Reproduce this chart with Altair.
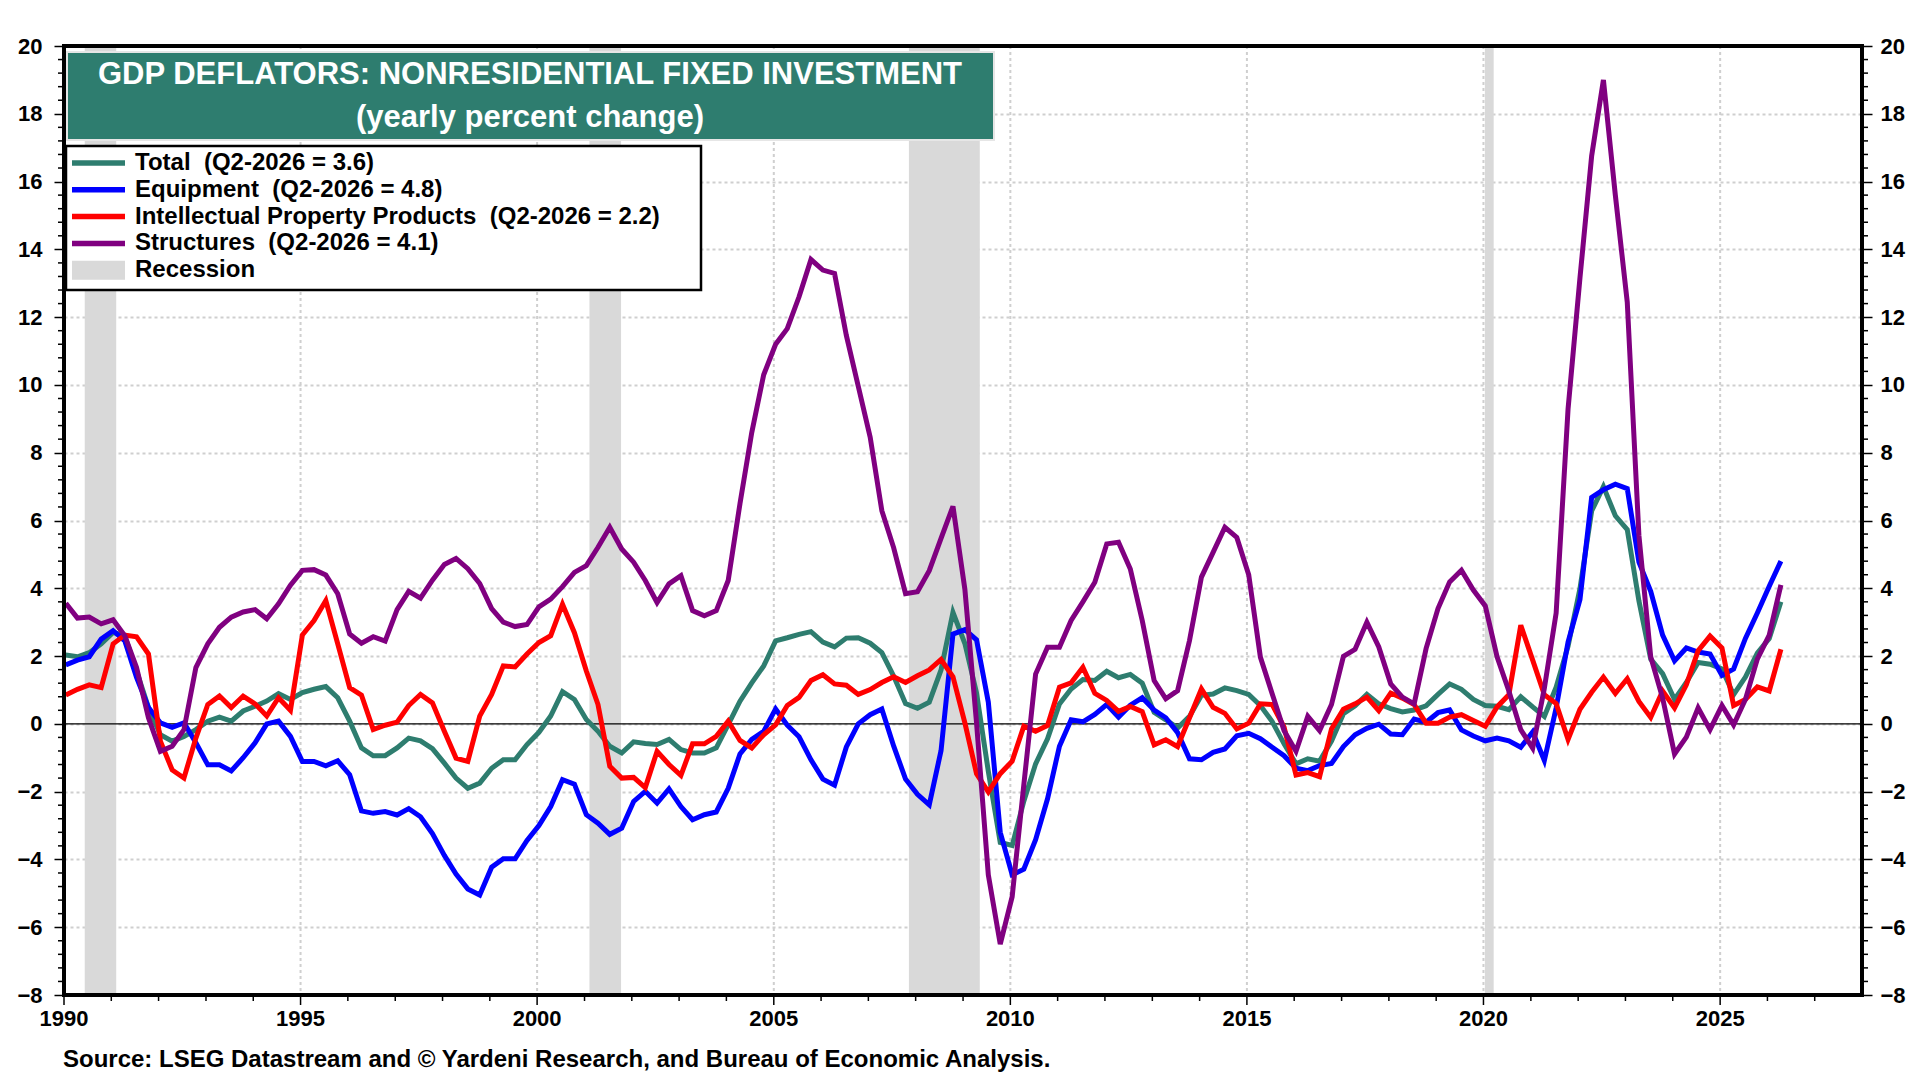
import altair as alt
import pandas as pd

# ---------------- data (quarterly, 1990Q1 .. 2026Q2) ----------------
total = [
    2.03, 1.98, 2.10, 2.36,
    2.70, 2.60, 1.56, 0.48,
    -0.32, -0.51, -0.37, -0.17,
    0.08, 0.20, 0.08, 0.38,
    0.52, 0.67, 0.89, 0.72,
    0.92, 1.02, 1.10, 0.77,
    0.08, -0.71, -0.94, -0.94,
    -0.71, -0.42, -0.50, -0.73,
    -1.16, -1.60, -1.90, -1.75,
    -1.31, -1.06, -1.06, -0.61,
    -0.25, 0.23, 0.95, 0.72,
    0.13, -0.22, -0.66, -0.86,
    -0.53, -0.58, -0.61, -0.46,
    -0.76, -0.86, -0.86, -0.71,
    -0.02, 0.67, 1.21, 1.71,
    2.45, 2.54, 2.64, 2.72,
    2.41, 2.27, 2.53, 2.54,
    2.38, 2.10, 1.41, 0.60,
    0.46, 0.64, 1.59, 3.29,
    2.37, 0.91, -1.40, -3.50,
    -3.59, -2.28, -1.18, -0.44,
    0.59, 1.03, 1.31, 1.28,
    1.55, 1.36, 1.46, 1.20,
    0.34, 0.12, -0.12, 0.22,
    0.84, 0.88, 1.06, 0.98,
    0.87, 0.54, 0.07, -0.59,
    -1.18, -1.03, -1.10, -0.51,
    0.30, 0.53, 0.87, 0.59,
    0.45, 0.35, 0.41, 0.53,
    0.87, 1.18, 1.02, 0.72,
    0.54, 0.52, 0.42, 0.80,
    0.50, 0.22, 1.08, 2.29,
    3.99, 6.28, 7.00, 6.14,
    5.73, 3.63, 1.91, 1.48,
    0.72, 1.22, 1.81, 1.76,
    1.62, 0.86, 1.38, 2.09,
    2.52, 3.60,
]

equipment = [
    1.74, 1.88, 1.98, 2.50,
    2.75, 2.45, 1.37, 0.48,
    0.03, -0.10, 0.03, -0.56,
    -1.21, -1.21, -1.39, -1.00,
    -0.56, 0.00, 0.08, -0.37,
    -1.11, -1.11, -1.24, -1.09,
    -1.50, -2.57, -2.64, -2.59,
    -2.69, -2.50, -2.74, -3.24,
    -3.88, -4.43, -4.87, -5.05,
    -4.23, -3.98, -3.98, -3.44,
    -3.00, -2.44, -1.65, -1.78,
    -2.68, -2.93, -3.26, -3.08,
    -2.29, -1.99, -2.34, -1.92,
    -2.44, -2.83, -2.68, -2.60,
    -1.90, -0.89, -0.46, -0.22,
    0.44, -0.04, -0.38, -1.06,
    -1.63, -1.81, -0.68, 0.00,
    0.27, 0.44, -0.65, -1.63,
    -2.08, -2.39, -0.79, 2.65,
    2.78, 2.48, 0.64, -3.20,
    -4.45, -4.29, -3.42, -2.21,
    -0.66, 0.12, 0.06, 0.28,
    0.57, 0.20, 0.55, 0.77,
    0.41, 0.18, -0.26, -1.03,
    -1.06, -0.84, -0.74, -0.35,
    -0.28, -0.44, -0.69, -0.94,
    -1.31, -1.38, -1.23, -1.17,
    -0.67, -0.32, -0.13, -0.01,
    -0.30, -0.32, 0.14, 0.05,
    0.33, 0.41, -0.18, -0.36,
    -0.50, -0.42, -0.50, -0.69,
    -0.24, -1.08, 0.47, 2.41,
    3.67, 6.68, 6.91, 7.07,
    6.94, 4.77, 3.91, 2.62,
    1.86, 2.24, 2.12, 2.06,
    1.43, 1.62, 2.52, 3.27,
    4.06, 4.80,
]

ipp = [
    0.85, 1.02, 1.15, 1.07,
    2.36, 2.62, 2.57, 2.06,
    -0.51, -1.36, -1.60, -0.42,
    0.57, 0.82, 0.48, 0.82,
    0.59, 0.23, 0.77, 0.40,
    2.62, 3.05, 3.64, 2.36,
    1.07, 0.85, -0.17, -0.04,
    0.05, 0.54, 0.87, 0.62,
    -0.22, -1.01, -1.11, 0.23,
    0.87, 1.71, 1.68, 2.06,
    2.40, 2.60, 3.53, 2.69,
    1.56, 0.57, -1.25, -1.60,
    -1.58, -1.88, -0.81, -1.20,
    -1.52, -0.59, -0.59, -0.37,
    0.08, -0.49, -0.71, -0.32,
    -0.03, 0.54, 0.78, 1.28,
    1.45, 1.18, 1.14, 0.87,
    1.01, 1.22, 1.39, 1.22,
    1.42, 1.59, 1.90, 1.39,
    0.03, -1.47, -2.01, -1.47,
    -1.10, -0.07, -0.22, -0.05,
    1.08, 1.21, 1.67, 0.90,
    0.69, 0.37, 0.51, 0.36,
    -0.62, -0.47, -0.67, 0.18,
    1.03, 0.49, 0.31, -0.15,
    0.02, 0.59, 0.57, -0.10,
    -1.51, -1.44, -1.56, -0.15,
    0.43, 0.59, 0.79, 0.39,
    0.91, 0.76, 0.57, 0.02,
    0.02, 0.20, 0.27, 0.10,
    -0.07, 0.50, 0.86, 2.91,
    1.88, 0.86, 0.60, -0.46,
    0.43, 0.93, 1.38, 0.90,
    1.33, 0.66, 0.19, 0.97,
    0.47, 1.15, 2.16, 2.59,
    2.24, 0.54, 0.72, 1.09,
    0.97, 2.20,
]

structures = [
    3.56, 3.12, 3.15, 2.95,
    3.07, 2.60, 1.66, 0.18,
    -0.81, -0.66, -0.17, 1.66,
    2.36, 2.85, 3.15, 3.30,
    3.37, 3.10, 3.54, 4.09,
    4.53, 4.55, 4.39, 3.84,
    2.65, 2.38, 2.57, 2.44,
    3.37, 3.91, 3.71, 4.24,
    4.70, 4.88, 4.58, 4.14,
    3.40, 3.00, 2.87, 2.93,
    3.45, 3.68, 4.05, 4.47,
    4.67, 5.21, 5.80, 5.16,
    4.77, 4.23, 3.58, 4.13,
    4.37, 3.34, 3.19, 3.34,
    4.23, 6.50, 8.60, 10.30,
    11.20, 11.66, 12.60, 13.70,
    13.39, 13.29, 11.46, 9.96,
    8.46, 6.29, 5.20, 3.84,
    3.90, 4.52, 5.47, 6.42,
    3.97, 0.03, -4.46, -6.50,
    -5.10, -1.80, 1.47, 2.26,
    2.26, 3.05, 3.60, 4.18,
    5.31, 5.36, 4.57, 3.05,
    1.28, 0.74, 0.98, 2.46,
    4.33, 5.06, 5.80, 5.50,
    4.40, 1.97, 0.89, -0.20,
    -0.81, 0.22, -0.20, 0.57,
    1.99, 2.20, 3.00, 2.27,
    1.18, 0.79, 0.59, 2.22,
    3.40, 4.19, 4.53, 3.95,
    3.48, 1.98, 0.97, -0.17,
    -0.72, 1.05, 3.27, 9.29,
    13.16, 16.75, 19.00, 15.60,
    12.44, 5.56, 1.98, 0.76,
    -0.89, -0.39, 0.47, -0.17,
    0.54, -0.03, 0.72, 1.91,
    2.62, 4.10,
]

series_names = ["Total", "Equipment", "Intellectual Property Products", "Structures"]
series_colors = ["#2e7d6f", "#0000ff", "#ff0000", "#800080"]
legend_labels = [
    "Total\u00a0 (Q2-2026 = 3.6)",
    "Equipment\u00a0 (Q2-2026 = 4.8)",
    "Intellectual Property Products\u00a0 (Q2-2026 = 2.2)",
    "Structures\u00a0 (Q2-2026 = 4.1)",
]

recession_start = ["1990-06-10", "2001-02-08", "2007-11-10", "2020-01-12"]
recession_end = ["1991-02-08", "2001-10-10", "2009-05-10", "2020-03-20"]

x_label_years = [1990, 1995, 2000, 2005, 2010, 2015, 2020, 2025]
y_label_values = [-8, -6, -4, -2, 0, 2, 4, 6, 8, 10, 12, 14, 16, 18, 20]

title_line1 = "GDP DEFLATORS: NONRESIDENTIAL FIXED INVESTMENT"
title_line2 = "(yearly percent change)"
source_text = "Source: LSEG Datastream and \u00a9 Yardeni Research, and Bureau of Economic Analysis."

# ---------------- build tables ----------------
dates = pd.date_range("1990-01-01", periods=len(total), freq="QS") + pd.Timedelta(days=14)
long_df = pd.concat(
    [pd.DataFrame({"date": dates, "value": vals, "series": name})
     for name, vals in zip(series_names, [total, equipment, ipp, structures])],
    ignore_index=True,
)
rec_df = pd.DataFrame({"start": pd.to_datetime(recession_start), "end": pd.to_datetime(recession_end)})

y_minor = [round(-8 + 0.4 * i, 2) for i in range(71) if i % 5 != 0]
x_minor = pd.to_datetime([f"{y}-01-01" for y in range(1991, 2028) if y % 5 != 0])
x_major = pd.to_datetime([f"{y}-01-01" for y in x_label_years])

W, H = 1798, 949
FONT = "Liberation Sans, Arial, Helvetica, sans-serif"
one = pd.DataFrame({"k": [0]})

x_scale = alt.Scale(domain=["1990-01-01T00:00:00", "2028-01-01T00:00:00"])
y_scale = alt.Scale(domain=[-8, 20], nice=False, zero=False)

GRID = dict(gridColor="#cfcfcf", gridDash=[3, 3], gridWidth=2)
LAB = dict(labelFont=FONT, labelFontSize=22, labelFontWeight="bold", labelColor="black",
           labelFlush=False, labelOverlap=False)

y_axis_left = alt.Axis(
    values=y_label_values, orient="left", title=None, domain=False, labelPadding=12,
    tickColor="black", tickSize=10, tickWidth=1.5, grid=True, **GRID, **LAB,
)
y_axis_right = alt.Axis(
    values=y_label_values, orient="right", title=None, domain=False, labelPadding=8,
    tickColor="black", tickSize=10, tickWidth=1.5, grid=False, **LAB,
)

layers = []

# recession shading
layers.append(
    alt.Chart(rec_df).mark_rect(color="#d9d9d9").encode(
        x=alt.X("start:T", scale=x_scale, axis=None),
        x2="end:T",
        y=alt.value(0), y2=alt.value(H),
    )
)

# vertical grid lines (every 5 years, dotted)
layers.append(
    alt.Chart(pd.DataFrame({"d": x_major[1:]})).mark_rule(
        color="#cfcfcf", strokeWidth=2, strokeDash=[3, 3]
    ).encode(x=alt.X("d:T", scale=x_scale, axis=None))
)

# zero line
layers.append(
    alt.Chart(pd.DataFrame({"z": [0]})).mark_rule(color="black", strokeWidth=1.2).encode(
        y=alt.Y("z:Q", scale=y_scale, axis=None)
    )
)

# series lines
for i, (name, color) in enumerate(zip(series_names, series_colors)):
    if i == 0:
        ya = y_axis_left
    elif i == 1:
        ya = y_axis_right
    else:
        ya = None
    layers.append(
        alt.Chart(long_df).transform_filter(alt.datum.series == name)
        .mark_line(color=color, strokeWidth=5)
        .encode(
            x=alt.X("date:T", scale=x_scale, axis=None),
            y=alt.Y("value:Q", scale=y_scale, axis=ya),
        )
    )

# x axis: major ticks + labels, minor ticks
layers.append(
    alt.Chart(pd.DataFrame({"d": x_major})).mark_rule(color="black", strokeWidth=1.5).encode(
        x=alt.X("d:T", scale=x_scale, axis=None), y=alt.value(H), y2=alt.value(H + 10)
    )
)
layers.append(
    alt.Chart(pd.DataFrame({"d": x_major})).mark_text(
        font=FONT, fontSize=22, fontWeight="bold", color="black", baseline="top", align="center"
    ).encode(
        x=alt.X("d:T", scale=x_scale, axis=None), y=alt.value(H + 14),
        text=alt.Text("d:T", format="%Y"),
    )
)
layers.append(
    alt.Chart(pd.DataFrame({"d": x_minor})).mark_rule(color="black", strokeWidth=1.5).encode(
        x=alt.X("d:T", scale=x_scale, axis=None), y=alt.value(H), y2=alt.value(H + 6)
    )
)

# y minor ticks
layers.append(
    alt.Chart(pd.DataFrame({"v": y_minor})).mark_rule(color="black", strokeWidth=1.5).encode(
        y=alt.Y("v:Q", scale=y_scale, axis=None), x=alt.value(-6), x2=alt.value(0)
    )
)
layers.append(
    alt.Chart(pd.DataFrame({"v": y_minor})).mark_rule(color="black", strokeWidth=1.5).encode(
        y=alt.Y("v:Q", scale=y_scale, axis=None), x=alt.value(W), x2=alt.value(W + 6)
    )
)

# frame
layers.append(
    alt.Chart(one).mark_rect(filled=False, stroke="black", strokeWidth=4).encode(
        x=alt.value(0), x2=alt.value(W), y=alt.value(0), y2=alt.value(H)
    )
)

# title box
layers.append(
    alt.Chart(one).mark_rect(fill="#2e7d6f", stroke="#e6e6e6", strokeWidth=2).encode(
        x=alt.value(3), x2=alt.value(930), y=alt.value(6), y2=alt.value(94)
    )
)
for txt, yy in [(title_line1, 29), (title_line2, 72)]:
    layers.append(
        alt.Chart(one).mark_text(
            text=txt, font=FONT, fontSize=31, fontWeight="bold", color="white",
            align="center", baseline="middle",
        ).encode(x=alt.value(466), y=alt.value(yy))
    )

# legend
layers.append(
    alt.Chart(one).mark_rect(fill="white", stroke="black", strokeWidth=2.5).encode(
        x=alt.value(2), x2=alt.value(637), y=alt.value(100), y2=alt.value(244)
    )
)
row0, row_step = 117, 26.8
for i, (lab, color) in enumerate(zip(legend_labels, series_colors)):
    yc = row0 + row_step * i
    layers.append(
        alt.Chart(one).mark_rule(color=color, strokeWidth=5.5).encode(
            x=alt.value(8), x2=alt.value(61), y=alt.value(yc)
        )
    )
    layers.append(
        alt.Chart(one).mark_text(
            text=lab, font=FONT, fontSize=24, fontWeight="bold", color="black",
            align="left", baseline="middle",
        ).encode(x=alt.value(71), y=alt.value(yc))
    )
yc = row0 + row_step * 4
layers.append(
    alt.Chart(one).mark_rect(color="#d9d9d9").encode(
        x=alt.value(8), x2=alt.value(61), y=alt.value(yc - 9.5), y2=alt.value(yc + 9.5)
    )
)
layers.append(
    alt.Chart(one).mark_text(
        text="Recession", font=FONT, fontSize=24, fontWeight="bold", color="black",
        align="left", baseline="middle",
    ).encode(x=alt.value(71), y=alt.value(yc))
)

# source
layers.append(
    alt.Chart(one).mark_text(
        text=source_text, font=FONT, fontSize=24, fontWeight="bold", color="black",
        align="left", baseline="middle",
    ).encode(x=alt.value(-1), y=alt.value(1014))
)

chart = (
    alt.layer(*layers)
    .properties(
        width=W, height=H,
        padding={"left": 56, "top": 38, "right": 50, "bottom": 77},
        autosize=alt.AutoSizeParams(type="none"),
        background="white",
    )
    .configure_view(stroke=None)
)

chart.save("out.html", embed_options={"renderer": "svg", "actions": False})
